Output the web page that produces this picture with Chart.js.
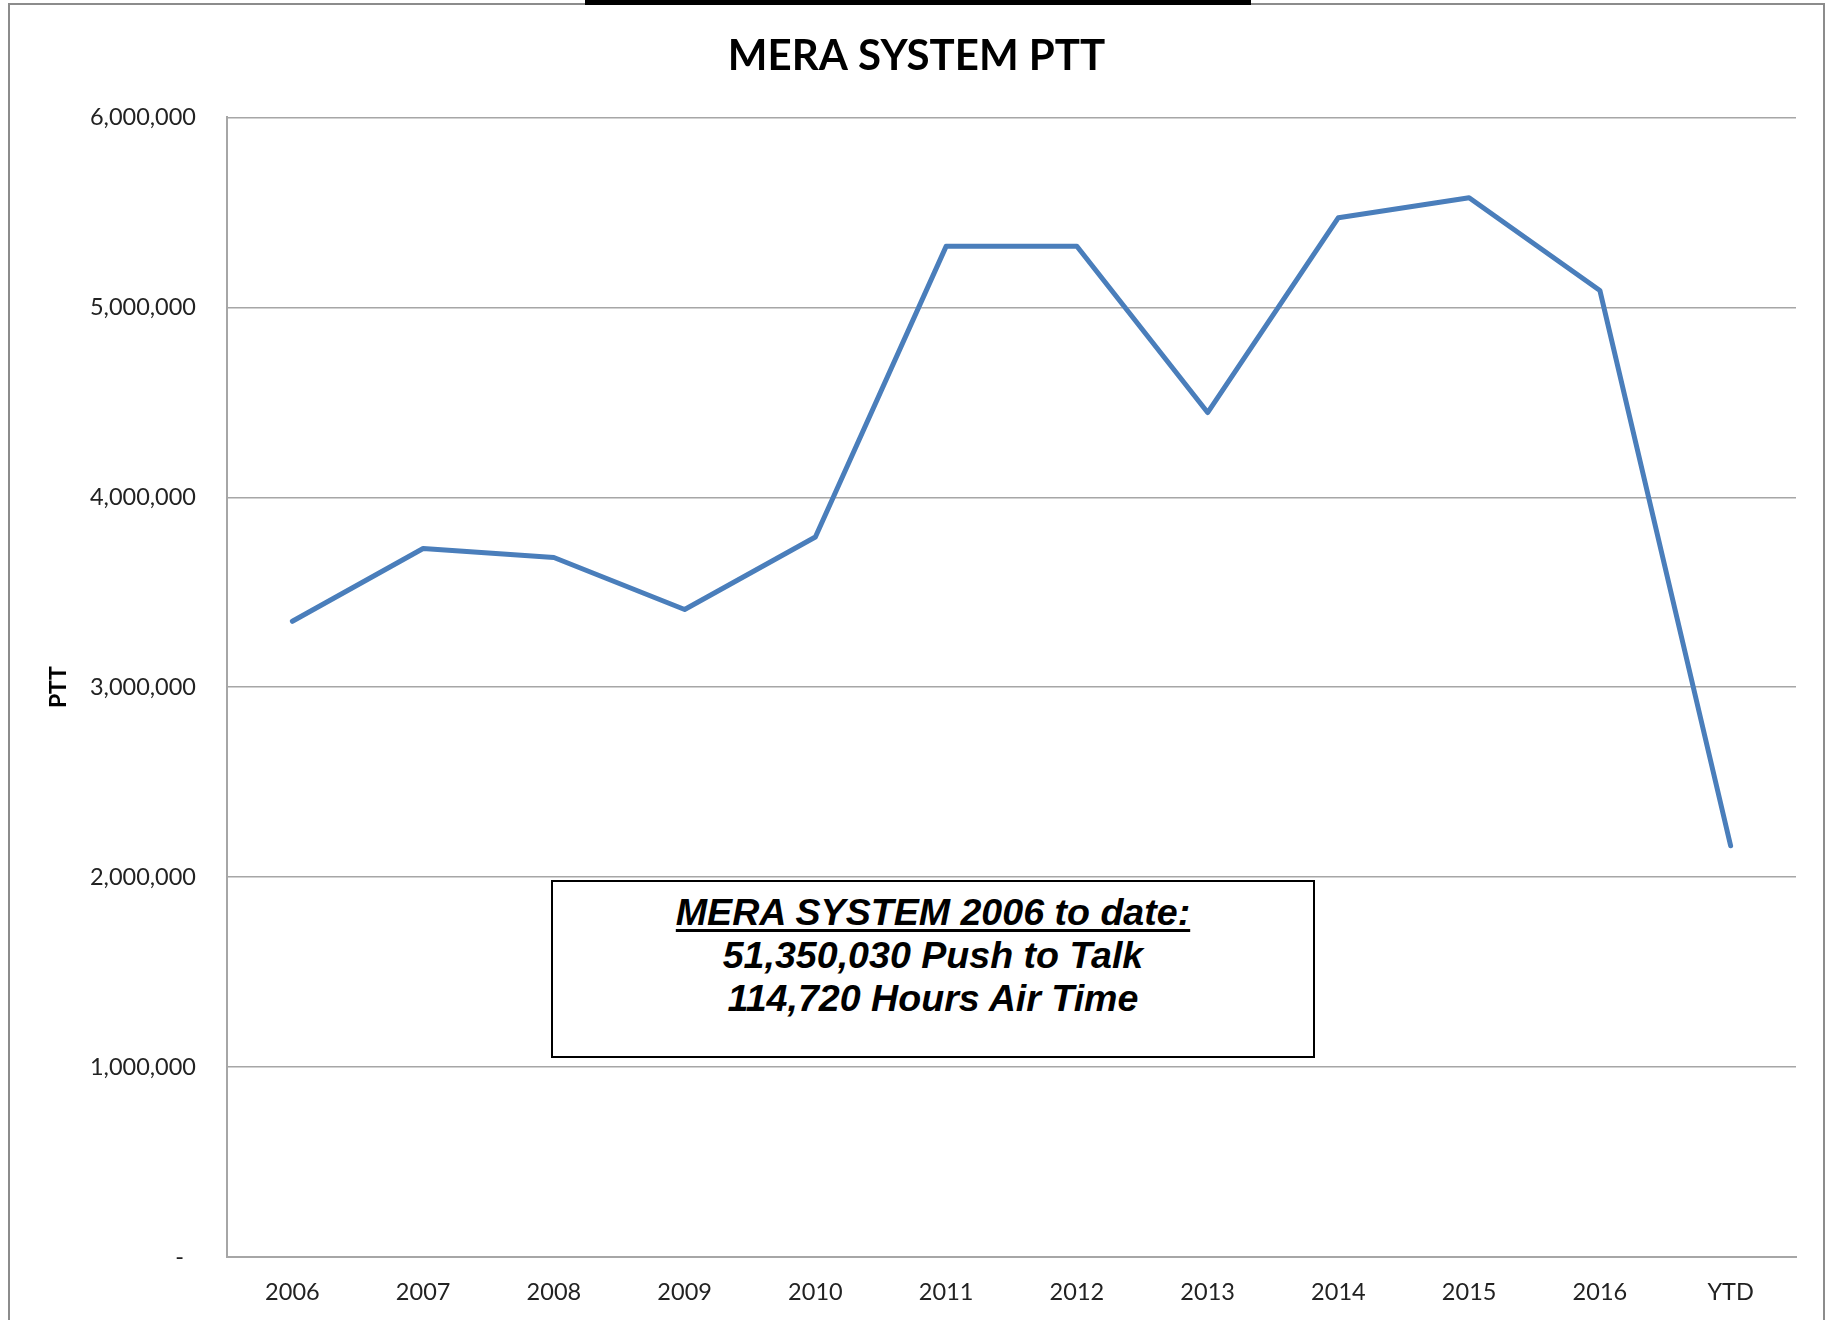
<!DOCTYPE html>
<html>
<head>
<meta charset="utf-8">
<script src="https://cdn.jsdelivr.net/npm/chart.js@4/dist/chart.umd.min.js"></script>
<style>
    body { margin: 0; background: #fff; }
    #wrap { position: relative; width: 1833px; height: 1320px; overflow: hidden; }
    #frame {
        position: absolute; left: 8px; top: 3px; width: 1817px; height: 1330px;
        border: 2px solid #8c8c8c; box-sizing: border-box;
    }
    #topbar { position: absolute; left: 585px; top: 0; width: 666px; height: 5px; background: #000; }
    #note {
        position: absolute; left: 551px; top: 880px; width: 764px; height: 178px;
        border: 2px solid #000; box-sizing: border-box; background: #fff;
        font-family: "Liberation Sans", Arial, sans-serif; font-weight: bold; font-style: italic;
        font-size: 37.6px; line-height: 43px; text-align: center; color: #000;
        padding-top: 9px;
    }
    #note u { text-underline-offset: 4px; text-decoration-thickness: 3px; }
</style>
</head>
<body>
<div id="wrap">
    <canvas id="pttChart" width="1833" height="1320"></canvas>
    <div id="frame"></div>
    <div id="topbar"></div>
    <div id="note">
        <u>MERA SYSTEM 2006 to date:</u><br>
        51,350,030 Push to Talk<br>
        114,720 Hours Air Time
    </div>
</div>

<script>
// values
const years = ['2006', '2007', '2008', '2009', '2010', '2011', '2012', '2013', '2014', '2015', '2016', 'YTD'];
const pttCounts = [3347000, 3730000, 3683000, 3409000, 3791000, 5321000, 5322000, 4446000, 5472000, 5577000, 5089000, 2165000];
const yTicks = [0, 1000000, 2000000, 3000000, 4000000, 5000000, 6000000];

const gridGray = '#a6a6a6';
const labelFont = { family: 'Lato', size: 23.5 };

const ctx = document.getElementById('pttChart').getContext('2d');

const chart = new Chart(ctx, {
    type: 'line',
    data: {
        labels: years,
        datasets: [{
            label: 'PTT',
            data: pttCounts,
            borderColor: '#4a7ebb',
            borderWidth: 5,
            borderJoinStyle: 'round',
            borderCapStyle: 'round',
            pointRadius: 0,
            tension: 0,
            fill: false
        }]
    },
    options: {
        responsive: false,
        animation: false,
        // equal side padding keeps the title centred on the page
        layout: { padding: { left: 37, right: 37, top: 0, bottom: 0 } },
        plugins: {
            legend: { display: false },
            tooltip: { enabled: false },
            title: {
                display: true,
                text: 'MERA SYSTEM PTT',
                color: '#000',
                font: { family: 'Lato', size: 42, weight: 'bold' },
                padding: { top: 31, bottom: 36 }
            }
        },
        scales: {
            x: {
                offset: true,
                grid: { display: false, drawTicks: false },
                border: { display: true, color: gridGray, width: 2 },
                ticks: { color: '#222', font: labelFont, padding: 21, maxRotation: 0 },
                afterFit: (scale) => { scale.height = 63; }
            },
            y: {
                min: 0,
                max: 6000000,
                afterBuildTicks: (scale) => { scale.ticks = yTicks.map(v => ({ value: v })); },
                grid: { color: gridGray, lineWidth: 1.5, drawTicks: false },
                border: { display: true, color: gridGray, width: 2 },
                ticks: {
                    color: '#222',
                    font: labelFont,
                    padding: 31,
                    callback: (v) => v === 0 ? '-  ' : v.toLocaleString('en-US')
                },
                title: {
                    display: true,
                    text: 'PTT',
                    color: '#000',
                    font: { family: 'Lato', size: 23, weight: 'bold' },
                    padding: { top: 8, bottom: 0 }
                },
                afterFit: (scale) => { scale.width = 190; }
            }
        }
    }
});
</script>
</body>
</html>
